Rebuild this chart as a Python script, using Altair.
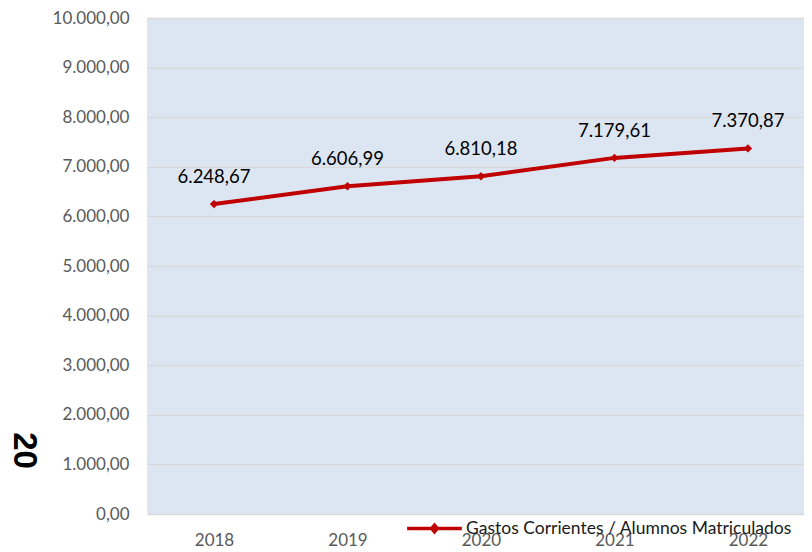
import altair as alt
import pandas as pd

years = [2018, 2019, 2020, 2021, 2022]
values = [6248.67, 6606.99, 6810.18, 7179.61, 7370.87]
series = ["Gastos Corrientes / Alumnos Matriculados"] * 5
y_ticks = [0, 1000, 2000, 3000, 4000, 5000, 6000, 7000, 8000, 9000, 10000]

df = pd.DataFrame({"anio": years, "valor": values, "serie": series})

FONT = "Lato"
RED = "#C00000"

x = alt.X("anio:Q", title=None,
          scale=alt.Scale(domain=[2017.498, 2022.42], nice=False, zero=False),
          axis=alt.Axis(values=years, format="d", labelAngle=0, labelFontSize=17,
                        labelColor="#595959", labelFont=FONT, ticks=False,
                        domain=False, grid=False, labelPadding=18,
                        labelFlush=False))
y = alt.Y("valor:Q", scale=alt.Scale(domain=[0, 10000], nice=False),
          axis=alt.Axis(values=y_ticks, format=",.2f", labelFontSize=17,
                        labelColor="#595959", labelFont=FONT, ticks=False,
                        domain=False, gridColor="#D9D9D9", gridWidth=1.5,
                        labelPadding=18, title="20", titleAngle=90,
                        titleFontSize=33, titleFontWeight="bold",
                        titleColor="#000000", titleFont="Liberation Sans",
                        titleX=-124, titleY=432, titleAlign="center",
                        titleBaseline="middle"))

legend_path = "M-1,0H1M0,-0.12L0.1,0L0,0.12L-0.1,0Z"

line = alt.Chart(df).mark_line(
    strokeWidth=4,
    point=alt.OverlayMarkDef(shape="diamond", size=70, filled=True, color=RED),
).encode(
    x=x, y=y,
    color=alt.Color("serie:N", scale=alt.Scale(range=[RED]),
                    legend=alt.Legend(title=None, orient="none", legendX=258,
                                      legendY=481, symbolType=legend_path,
                                      symbolSize=3000, symbolStrokeWidth=3.5,
                                      symbolFillColor=RED, symbolStrokeColor=RED,
                                      labelFontSize=17.5, labelFont=FONT,
                                      labelColor="#1a1a1a", labelOffset=2,
                                      labelLimit=0, padding=0)),
)

labels = alt.Chart(df).mark_text(
    dy=-27, fontSize=18.5, font=FONT, color="#000000"
).encode(
    x=alt.X("anio:Q"),
    y=alt.Y("valor:Q"),
    text=alt.Text("valor:Q", format=",.2f"),
)

chart = alt.layer(line, labels).properties(
    width=657, height=496,
    autosize=alt.AutoSizeParams(type="none"),
    padding={"left": 139, "top": 10, "right": 0, "bottom": 37},
    background="#FFFFFF",
).configure(
    locale=alt.Locale(number=alt.NumberLocale(decimal=",", thousands=".",
                                              grouping=[3], currency=["", "€"])),
    view=alt.ViewConfig(fill="#DCE6F2", strokeWidth=0),
)

chart.save("out.html", embed_options={"renderer": "svg", "actions": False})
